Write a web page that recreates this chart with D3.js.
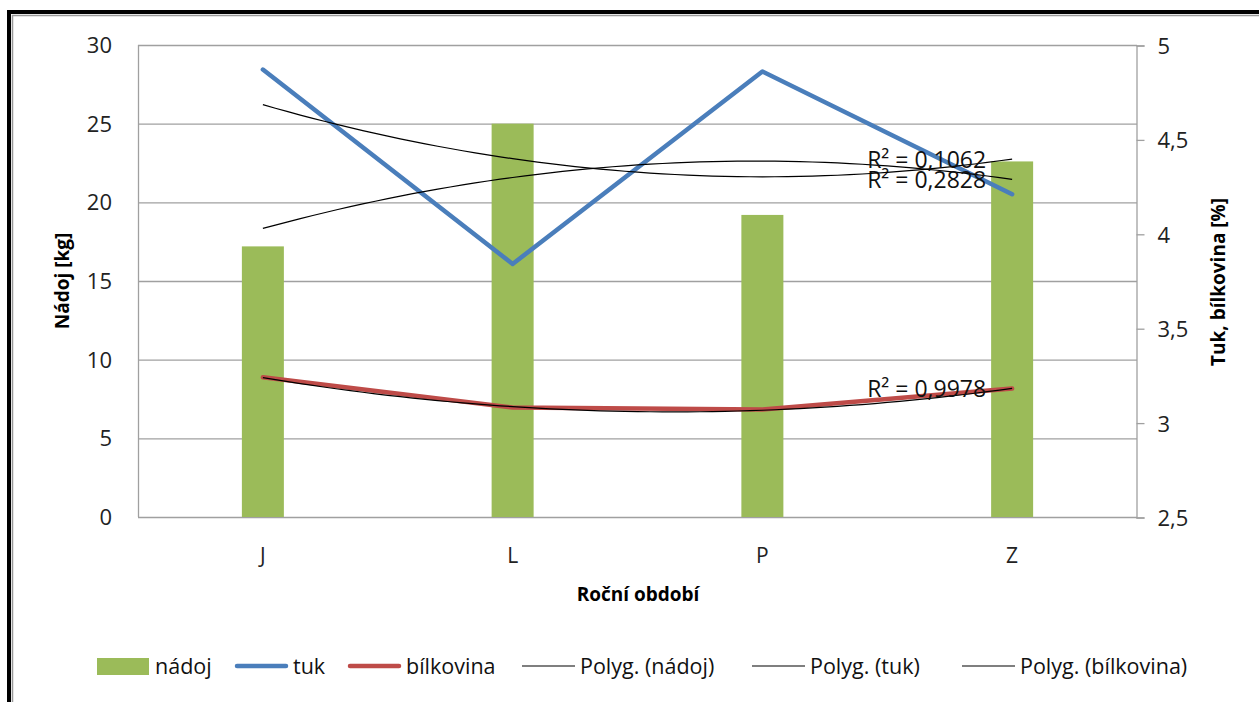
<!DOCTYPE html>
<html>
<head>
<meta charset="utf-8">
<script src="https://cdn.jsdelivr.net/npm/d3@7"></script>
<style>
  body { margin: 0; background: #fff; }
  svg { display: block; font-family: "Open Sans", sans-serif; }
</style>
</head>
<body>
<svg id="chart" width="1259" height="702"></svg>
<script>
// data
var obdobi = ["J", "L", "P", "Z"];
var nadoj = [17.2, 25.0, 19.2, 22.6];
var tuk = [4.87, 3.84, 4.86, 4.21];
var bilkovina = [3.24, 3.08, 3.07, 3.18];
var r2Text = ["R² = 0,2828", "R² = 0,1062", "R² = 0,9978"];
var leftTicks = [0, 5, 10, 15, 20, 25, 30];
var rightTicks = [2.5, 3, 3.5, 4, 4.5, 5];
var legendNames = ["nádoj", "tuk", "bílkovina", "Polyg. (nádoj)", "Polyg. (tuk)", "Polyg. (bílkovina)"];

var svg = d3.select("#chart");
var pLeft = 138, pRight = 1137, pTop = 45, pBottom = 517;

// outer frame (goes off the picture at right and bottom)
svg.append("rect").attr("x", 9).attr("y", 12).attr("width", 1300).attr("height", 760)
  .attr("fill", "none").attr("stroke", "#000").attr("stroke-width", 4);
svg.append("rect").attr("x", 12.5).attr("y", 15.5).attr("width", 1300).attr("height", 760)
  .attr("fill", "none").attr("stroke", "#999").attr("stroke-width", 1.5);

var x = d3.scaleBand().domain(obdobi).range([pLeft, pRight]);
var yL = d3.scaleLinear().domain([0, 30]).range([pBottom, pTop]);
var yR = d3.scaleLinear().domain([2.5, 5]).range([pBottom, pTop]);
var cx = function(i){ return x(obdobi[i]) + x.bandwidth() / 2; };

// gridlines
svg.append("g").selectAll("line").data(leftTicks).enter().append("line")
  .attr("x1", pLeft).attr("x2", pRight)
  .attr("y1", function(d){ return yL(d) + 0.5; }).attr("y2", function(d){ return yL(d) + 0.5; })
  .attr("stroke", "#a0a0a0").attr("stroke-width", 1.3);

// plot border left
svg.append("line").attr("x1", pLeft + 0.5).attr("x2", pLeft + 0.5).attr("y1", pTop).attr("y2", pBottom)
  .attr("stroke", "#a0a0a0").attr("stroke-width", 1.3);

// left axis labels
svg.append("g").selectAll("text").data(leftTicks).enter().append("text")
  .attr("x", pLeft - 26).attr("y", function(d){ return yL(d) + 8; })
  .attr("text-anchor", "end").attr("font-size", 22).attr("fill", "#222")
  .text(function(d){ return d; });

// right axis
var axisR = d3.axisRight(yR).tickValues(rightTicks).tickSize(8).tickPadding(13)
  .tickFormat(function(d){ return String(d).replace(".", ","); });
var gR = svg.append("g").attr("transform", "translate(" + (pRight - 0.5) + ",0.5)").call(axisR);
gR.select(".domain").attr("stroke", "#a0a0a0").attr("stroke-width", 1.3);
gR.selectAll(".tick line").attr("stroke", "#a0a0a0").attr("stroke-width", 1.3);
gR.selectAll(".tick text").attr("font-size", 22).attr("fill", "#222")
  .attr("font-family", "Open Sans, sans-serif").attr("dy", "0.36em");

// category labels
svg.append("g").selectAll("text").data(obdobi).enter().append("text")
  .attr("x", function(d, i){ return cx(i); }).attr("y", 563)
  .attr("text-anchor", "middle").attr("font-size", 21).attr("fill", "#222")
  .text(function(d){ return d; });

// axis titles
svg.append("text").attr("x", 638).attr("y", 601).attr("text-anchor", "middle")
  .attr("font-size", 19).attr("font-weight", "bold").text("Roční období");
svg.append("text").attr("transform", "translate(69,281) rotate(-90)").attr("text-anchor", "middle")
  .attr("font-size", 19).attr("font-weight", "bold").text("Nádoj [kg]");
svg.append("text").attr("transform", "translate(1225,282) rotate(-90)").attr("text-anchor", "middle")
  .attr("font-size", 19).attr("font-weight", "bold").text("Tuk, bílkovina [%]");

// bars
var barW = 42;
svg.append("g").selectAll("rect").data(nadoj).enter().append("rect")
  .attr("x", function(d, i){ return cx(i) - barW / 2; })
  .attr("y", function(d){ return yL(d); })
  .attr("width", barW).attr("height", function(d){ return pBottom - yL(d); })
  .attr("fill", "#9bbb59");

// lines
function drawLine(vals, scale, color){
  var ln = d3.line().x(function(d, i){ return cx(i); }).y(function(d){ return scale(d); });
  svg.append("path").datum(vals).attr("d", ln).attr("fill", "none")
    .attr("stroke", color).attr("stroke-width", 4.5)
    .attr("stroke-linecap", "round").attr("stroke-linejoin", "round");
}
drawLine(tuk, yR, "#4a7ebb");
drawLine(bilkovina, yR, "#be4b48");

// 2nd order polynomial trend (least squares over x = 0..3)
function polyFit(vals){
  var S = [0,0,0,0,0], T = [0,0,0];
  vals.forEach(function(v, i){
    for (var k = 0; k < 5; k++) S[k] += Math.pow(i, k);
    for (var k = 0; k < 3; k++) T[k] += v * Math.pow(i, k);
  });
  var M = [[S[0],S[1],S[2],T[0]],[S[1],S[2],S[3],T[1]],[S[2],S[3],S[4],T[2]]];
  for (var c = 0; c < 3; c++){
    for (var r = c + 1; r < 3; r++){
      var f = M[r][c] / M[c][c];
      for (var k = c; k < 4; k++) M[r][k] -= f * M[c][k];
    }
  }
  var b = [0,0,0];
  for (var r = 2; r >= 0; r--){
    var s = M[r][3];
    for (var k = r + 1; k < 3; k++) s -= M[r][k] * b[k];
    b[r] = s / M[r][r];
  }
  return function(t){ return b[0] + b[1] * t + b[2] * t * t; };
}

var trends = [[nadoj, yL], [tuk, yR], [bilkovina, yR]];
trends.forEach(function(tr, j){
  var f = polyFit(tr[0]);
  var steps = d3.range(0, 3.0001, 0.05);
  var ln = d3.line()
    .x(function(t){ return cx(0) + t * x.bandwidth(); })
    .y(function(t){ return tr[1](f(t)); });
  svg.append("path").datum(steps).attr("d", ln).attr("fill", "none")
    .attr("stroke", "#000").attr("stroke-width", 1.2);
  svg.append("text").attr("x", cx(3) - 26).attr("y", tr[1](f(3)) + 9)
    .attr("text-anchor", "end").attr("font-size", 23).attr("fill", "#111")
    .text(r2Text[j]);
});

// legend
var legX = [97, 235, 348, 522, 752, 962];
var legY = 666;
var lg = svg.append("g");
legendNames.forEach(function(name, i){
  var x0 = legX[i];
  if (i === 0) {
    lg.append("rect").attr("x", x0).attr("y", legY - 8).attr("width", 52).attr("height", 17).attr("fill", "#9bbb59");
  } else if (i < 3) {
    lg.append("line").attr("x1", x0 + 2).attr("x2", x0 + 51).attr("y1", legY).attr("y2", legY)
      .attr("stroke", i === 1 ? "#4a7ebb" : "#be4b48").attr("stroke-width", 4.5).attr("stroke-linecap", "round");
  } else {
    lg.append("line").attr("x1", x0).attr("x2", x0 + 53).attr("y1", legY).attr("y2", legY)
      .attr("stroke", "#000").attr("stroke-width", 1.2);
  }
  lg.append("text").attr("x", x0 + 58).attr("y", legY + 8).attr("font-size", 21.5).attr("fill", "#111").text(name);
});
</script>
</body>
</html>
